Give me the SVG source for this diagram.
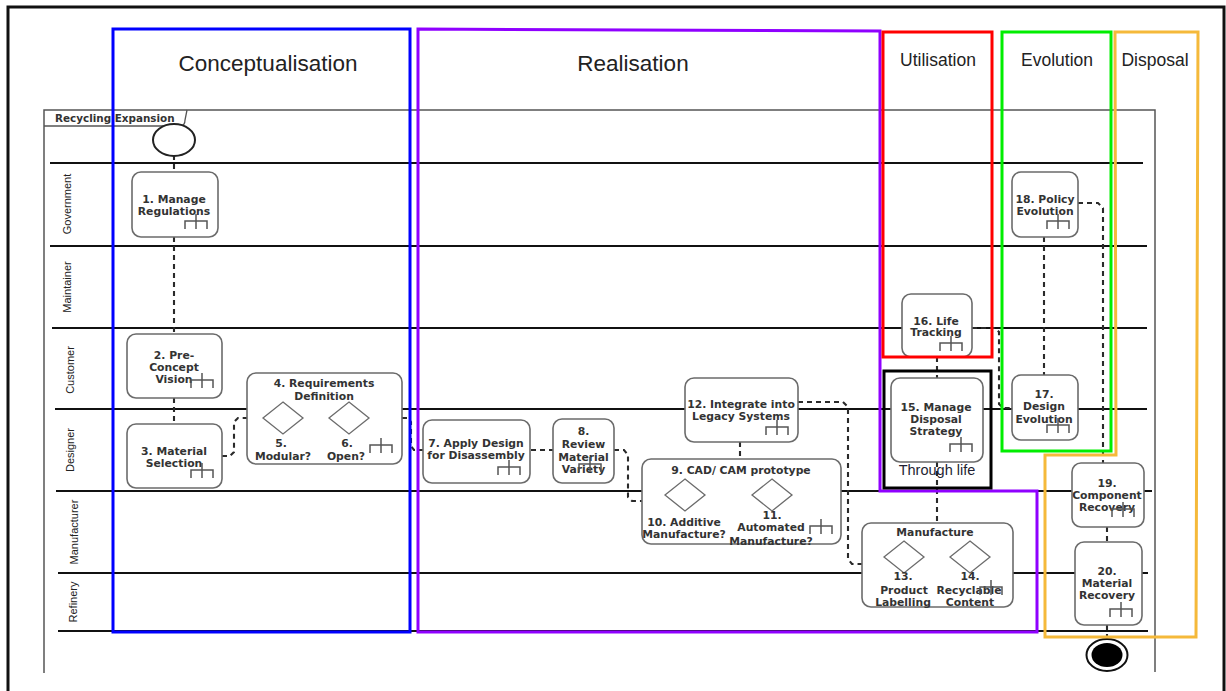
<svg xmlns="http://www.w3.org/2000/svg" width="1226" height="691" viewBox="0 0 1226 691">
<style>
.lane{stroke:#111;stroke-width:2.2;fill:none}
.lbl{font-family:"Liberation Sans",Arial,sans-serif;font-size:11px;fill:#222;text-anchor:middle}
.task{fill:#fff;stroke:#6b6b6b;stroke-width:1.6}
.gw{fill:#fff;stroke:#6b6b6b;stroke-width:1.3}
.t{font-family:"DejaVu Sans",Verdana,sans-serif;font-weight:bold;font-size:10.8px;fill:#333;text-anchor:middle}
.flow{fill:none;stroke:#2a2a2a;stroke-width:2.1;stroke-dasharray:5 4}
.mk{fill:none;stroke:#555;stroke-width:1.5}
.ph{fill:none;stroke-width:3}
.pt{font-family:"Liberation Sans",Arial,sans-serif;fill:#222;text-anchor:middle}
</style>
<defs>
  <!-- collapsed sub-process marker -->
  <path id="sub" class="mk" d="M0,11 V3 H22 V11 M11,-4 V11"/>
</defs>

<rect width="1226" height="691" fill="#fff"/>
<!-- page frame -->
<rect x="8" y="7" width="1216" height="720" fill="none" stroke="#111" stroke-width="3"/>

<!-- pool -->
<g id="pool">
  <path d="M44,673 V110 H1155 V672" fill="none" stroke="#555" stroke-width="1.5"/>
  <path d="M44,126 H180 Q185,126 185,120 L187,110" fill="none" stroke="#555" stroke-width="1.3"/>
  <text x="55" y="122" font-family="DejaVu Sans,sans-serif" font-weight="bold" font-size="10.4" fill="#333">Recycling Expansion</text>
</g>

<!-- lanes -->
<g id="lanes">
  <path class="lane" d="M50,163 H1143 M50,246 H1147 M52,328 H1147 M55,409 H1147 M56,491 H1152 M58,573 H1148 M58,631 H1148"/>
  <text class="lbl" transform="translate(71,204) rotate(-90)">Government</text>
  <text class="lbl" transform="translate(71,287) rotate(-90)">Maintainer</text>
  <text class="lbl" transform="translate(74,370) rotate(-90)">Customer</text>
  <text class="lbl" transform="translate(74,450) rotate(-90)">Designer</text>
  <text class="lbl" transform="translate(78,532) rotate(-90)">Manufacturer</text>
  <text class="lbl" transform="translate(77,602) rotate(-90)">Refinery</text>
</g>

<!-- sequence connectors -->
<g id="connectors">
  <path class="flow" d="M174,155 V172"/>
  <path class="flow" d="M174,237 V334"/>
  <path class="flow" d="M174,398 V424"/>
  <path class="flow" d="M222,456 H230 L234,452 V422 L238,418 H247"/>
  <path class="flow" d="M402,418 H408 L411,422 V446 L414,450 H423"/>
  <path class="flow" d="M531,450 H553"/>
  <path class="flow" d="M614,450 H624 L628,455 V497 L632,501 H642"/>
  <path class="flow" d="M740,442 V459"/>
  <path class="flow" d="M798,402 H843 L848,407 V559 L852,564 H862"/>
  <path class="flow" d="M937,357 V378"/>
  <path class="flow" d="M937,462 V523"/>
  <path class="flow" d="M972,328 H995 L999,332 V404 L1003,408 H1012"/>
  <path class="flow" d="M1044,237 V375"/>
  <path class="flow" d="M1078,203 H1098 L1103,208 V463"/>
  <path class="flow" d="M1107,527 V542"/>
  <path class="flow" d="M1107,625 V639"/>
</g>

<!-- events -->
<g id="start">
  <ellipse cx="174" cy="140" rx="21" ry="16" fill="#fff" stroke="#222" stroke-width="2"/>
</g>
<g id="end">
  <ellipse cx="1107" cy="655" rx="20.5" ry="16" fill="#fff" stroke="#111" stroke-width="2"/>
  <ellipse cx="1107" cy="655" rx="15.5" ry="12" fill="#000"/>
</g>

<!-- tasks -->
<g id="n1">
  <rect class="task" x="132" y="172" width="86" height="65" rx="9"/>
  <text class="t" x="174" y="203">1. Manage<tspan x="174" dy="12">Regulations</tspan></text>
  <use href="#sub" x="185" y="218"/>
</g>
<g id="n2">
  <rect class="task" x="127" y="334" width="95" height="64" rx="9"/>
  <text class="t" x="174" y="359">2. Pre-<tspan x="174" dy="12">Concept</tspan><tspan x="174" dy="12">Vision</tspan></text>
  <use href="#sub" x="191" y="377"/>
</g>
<g id="n3">
  <rect class="task" x="127" y="424" width="95" height="64" rx="9"/>
  <text class="t" x="174" y="455">3. Material<tspan x="174" dy="12">Selection</tspan></text>
  <use href="#sub" x="191" y="467"/>
</g>
<g id="n4">
  <rect class="task" x="247" y="373" width="155" height="91" rx="9"/>
  <text class="t" x="324" y="387">4. Requirements<tspan x="324" dy="13">Definition</tspan></text>
  <polygon class="gw" points="283,402 303,418 283,434 263,418"/>
  <polygon class="gw" points="349,402 369,418 349,434 329,418"/>
  <text class="t" x="281" y="447">5.<tspan x="283" dy="13">Modular?</tspan></text>
  <text class="t" x="347" y="447">6.<tspan x="346" dy="13">Open?</tspan></text>
  <use href="#sub" x="370" y="442"/>
</g>
<g id="n7">
  <rect class="task" x="423" y="420" width="107" height="63" rx="9"/>
  <text class="t" x="476" y="447">7. Apply Design<tspan x="476" dy="12">for Disassembly</tspan></text>
  <use href="#sub" x="498" y="464"/>
</g>
<g id="n8">
  <rect class="task" x="553" y="419" width="61" height="64" rx="9"/>
  <text class="t" x="583.5" y="435">8.<tspan x="583.5" dy="13">Review</tspan><tspan x="583.5" dy="13">Material</tspan><tspan x="583.5" dy="12">Variety</tspan></text>
  <use href="#sub" x="579" y="461"/>
</g>
<g id="n9">
  <rect class="task" x="642" y="459" width="199" height="85" rx="9"/>
  <text class="t" x="741" y="474">9. CAD/ CAM prototype</text>
  <polygon class="gw" points="685,479 705,495 685,511 665,495"/>
  <polygon class="gw" points="772,479 792,495 772,511 752,495"/>
  <text class="t" x="684" y="526">10. Additive<tspan x="684" dy="12">Manufacture?</tspan></text>
  <text class="t" x="772" y="519">11.<tspan x="771" dy="12">Automated</tspan><tspan x="771" dy="14">Manufacture?</tspan></text>
  <use href="#sub" x="810" y="523"/>
</g>
<g id="n12">
  <rect class="task" x="685" y="378" width="113" height="64" rx="9"/>
  <text class="t" x="741" y="408">12. Integrate into<tspan x="741" dy="12">Legacy Systems</tspan></text>
  <use href="#sub" x="766" y="424"/>
</g>
<g id="nManufacture">
  <rect class="task" x="862" y="523" width="151" height="84" rx="9"/>
  <text class="t" x="935" y="536">Manufacture</text>
  <polygon class="gw" points="904,541 924,557 904,573 884,557"/>
  <polygon class="gw" points="970,541 990,557 970,573 950,557"/>
  <text class="t" x="903" y="580">13.<tspan x="904" dy="14">Product</tspan><tspan x="903" dy="12">Labelling</tspan></text>
  <text class="t" x="970" y="580">14.<tspan x="969" dy="14">Recyclable</tspan><tspan x="970" dy="12">Content</tspan></text>
  <use href="#sub" x="980" y="584"/>
</g>
<g id="n15">
  <rect class="task" x="891" y="378" width="92" height="84" rx="9"/>
  <text class="t" x="936" y="411">15. Manage<tspan x="936" dy="12">Disposal</tspan><tspan x="936" dy="12">Strategy</tspan></text>
  <use href="#sub" x="950" y="441"/>
  <text x="937" y="475" font-family="Liberation Sans,Arial,sans-serif" font-size="14.5" fill="#1f1f33" text-anchor="middle">Through life</text>
</g>
<g id="n16">
  <rect class="task" x="902" y="294" width="70" height="63" rx="9"/>
  <text class="t" x="936" y="325">16. Life<tspan x="936" dy="11">Tracking</tspan></text>
  <use href="#sub" x="940" y="340"/>
</g>
<g id="n17">
  <rect class="task" x="1012" y="375" width="66" height="65" rx="9"/>
  <text class="t" x="1044" y="398">17.<tspan x="1044" dy="12">Design</tspan><tspan x="1044" dy="13">Evolution</tspan></text>
  <use href="#sub" x="1047" y="422"/>
</g>
<g id="n18">
  <rect class="task" x="1012" y="172" width="66" height="65" rx="9"/>
  <text class="t" x="1045" y="203">18. Policy<tspan x="1045" dy="12">Evolution</tspan></text>
  <use href="#sub" x="1047" y="218"/>
</g>
<g id="n19">
  <rect class="task" x="1072" y="463" width="72" height="64" rx="9"/>
  <text class="t" x="1107" y="487">19.<tspan x="1107" dy="12">Component</tspan><tspan x="1107" dy="12">Recovery</tspan></text>
  <use href="#sub" x="1112" y="506"/>
</g>
<g id="n20">
  <rect class="task" x="1075" y="542" width="67" height="83" rx="9"/>
  <text class="t" x="1107" y="575">20.<tspan x="1107" dy="12">Material</tspan><tspan x="1107" dy="12">Recovery</tspan></text>
  <use href="#sub" x="1110" y="606"/>
</g>

<!-- life-cycle phase frames -->
<g id="phases">
  <rect class="ph" x="113" y="29" width="297" height="603" stroke="#0000ff"/>
  <text class="pt" x="268" y="71" font-size="22.5">Conceptualisation</text>
  <path class="ph" d="M418,29 L880,31 V491 H1037 V632 H418 Z" stroke="#8f00ff"/>
  <text class="pt" x="633" y="71" font-size="22.5">Realisation</text>
  <rect class="ph" x="883" y="32" width="109" height="325" stroke="#ff0000"/>
  <text class="pt" x="938" y="66" font-size="17.5">Utilisation</text>
  <rect class="ph" x="884" y="371" width="107" height="117" stroke="#000" stroke-width="3.5"/>
  <rect class="ph" x="1002" y="32" width="109" height="419" stroke="#00ee00"/>
  <text class="pt" x="1057" y="66" font-size="17.5">Evolution</text>
  <path class="ph" d="M1115,32 H1198 L1196,637 H1045 V455 H1116 Z" stroke="#f5b93a"/>
  <text class="pt" x="1155" y="66" font-size="17.5">Disposal</text>
</g>
</svg>
